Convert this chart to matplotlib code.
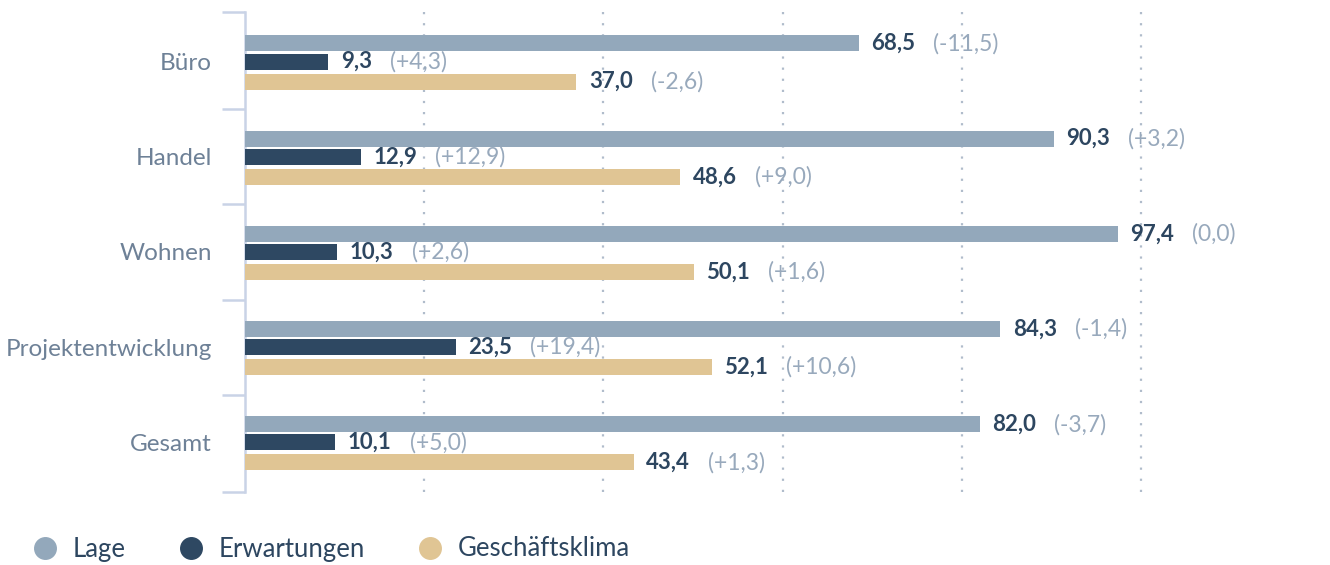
import matplotlib
matplotlib.use("Agg")
import matplotlib.pyplot as plt
from matplotlib.lines import Line2D
import numpy as np

plt.rcParams['font.family'] = ['Lato', 'DejaVu Sans']

categories = ["Büro", "Handel", "Wohnen", "Projektentwicklung", "Gesamt"]
series = ["Lage", "Erwartungen", "Geschäftsklima"]
lage = [68.5, 90.3, 97.4, 84.3, 82.0]
erwartungen = [9.3, 12.9, 10.3, 23.5, 10.1]
klima = [37.0, 48.6, 50.1, 52.1, 43.4]
lage_chg = ["-11,5", "+3,2", "0,0", "-1,4", "-3,7"]
erw_chg = ["+4,3", "+12,9", "+2,6", "+19,4", "+5,0"]
klima_chg = ["-2,6", "+9,0", "+1,6", "+10,6", "+1,3"]

colors = ["#93a8bb", "#2e4862", "#e0c594"]
dark = "#2d4660"
grey = "#98a9bc"
label_col = "#6e8197"
spine_col = "#c9d3e6"

fig = plt.figure(figsize=(13.3, 5.65), dpi=100)
ax = fig.add_axes([245/1330, (565-492)/565, 1075/1330, 480/565])

y = np.arange(len(categories))
offs = [-0.19, 0.0, 0.21]
h = 0.168
vals = [lage, erwartungen, klima]
chgs = [lage_chg, erw_chg, klima_chg]

for s in range(3):
    ax.barh(y + offs[s], vals[s], height=h, color=colors[s], zorder=3)

ax.set_xlim(0, 120)
ax.set_ylim(4.52, -0.52)
for gx in [20, 40, 60, 80, 100]:
    ax.axvline(gx, color="#b0bccb", linestyle=(0, (1, 4)), linewidth=1.6, zorder=1)

for sp in ["top", "right", "bottom"]:
    ax.spines[sp].set_visible(False)
ax.spines["left"].set_color(spine_col)
ax.spines["left"].set_linewidth(1.8)
ax.set_xticks([])
ax.set_yticks([-0.52, 0.5, 1.5, 2.5, 3.5, 4.52], minor=False)
ax.set_yticklabels([])
ax.tick_params(axis="y", which="major", length=16.5, width=1.8, color=spine_col)
ax.set_yticks(y, minor=True)
ax.set_yticklabels(categories, minor=True, fontsize=17.5, color=label_col)
ax.tick_params(axis="y", which="minor", length=0, pad=24)

fig.canvas.draw()
renderer = fig.canvas.get_renderer()
texts = []
for s in range(3):
    for i in range(len(categories)):
        t = ax.annotate(f"{vals[s][i]:.1f}".replace(".", ","), xy=(vals[s][i], y[i] + offs[s]),
                        xytext=(9, 0), textcoords="offset points", ha="left", va="center",
                        fontsize=16, fontweight="bold", color=dark, zorder=4)
        texts.append((t, s, i))
fig.canvas.draw()
for t, s, i in texts:
    bb = t.get_window_extent(renderer)
    x_disp = bb.x1 + 18
    xd, _ = ax.transData.inverted().transform((x_disp, 0))
    ax.text(xd, y[i] + offs[s], f"({chgs[s][i]})", ha="left", va="center",
            fontsize=16.5, color=grey, zorder=4)

handles = [Line2D([0], [0], marker="o", linestyle="none", markersize=15.5,
                  markerfacecolor=c, markeredgecolor=c) for c in colors]
fig.legend(handles, series, loc="center left", bbox_to_anchor=(32/1330, 16/565), ncol=3,
           frameon=False, fontsize=18.5, labelcolor=dark, handlelength=1.0,
           handletextpad=0.59, columnspacing=2.02, borderpad=0, borderaxespad=0)

fig.savefig("out.png", dpi=100)
